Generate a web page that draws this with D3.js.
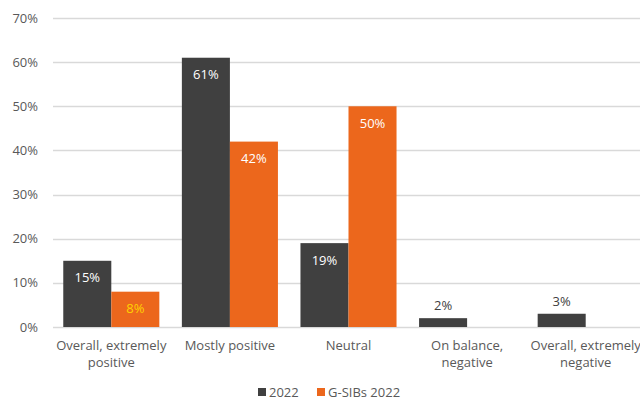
<!DOCTYPE html>
<html><head><meta charset="utf-8">
<script src="https://cdn.jsdelivr.net/npm/d3@7"></script>
<style>body{margin:0;background:#fff;overflow:hidden}svg{display:block;font-family:"Open Sans",sans-serif}</style>
</head><body>
<svg id="c" width="640" height="400"></svg>
<script>
const categories = [["Overall, extremely","positive"],["Mostly positive"],["Neutral"],["On balance,","negative"],["Overall, extremely","negative"]];
const seriesNames = ["2022","G-SIBs 2022"];
const values2022 = [15,61,19,2,3];
const valuesGSIB = [8,42,50,null,null];
const yTicks = [0,10,20,30,40,50,60,70];
const colors = ["#404040","#EC671C"];

const svg = d3.select("#c");
const m = {l:52, r:-5, t:18, b:73};
const W = 640, H = 400;
const x = d3.scaleBand().domain(d3.range(categories.length)).range([m.l, W - m.r]).paddingInner(0.19).paddingOuter(0.095);
const xs = d3.scaleBand().domain([0,1]).range([0, x.bandwidth()]);
const y = d3.scaleLinear().domain([0,70]).range([H - m.b, m.t]);

// gridlines
svg.append("g").selectAll("line").data(yTicks).join("line")
  .attr("x1", m.l+1).attr("x2", W).attr("y1", d=>Math.round(y(d))+0.5).attr("y2", d=>Math.round(y(d))+0.5)
  .attr("stroke","#d9d9d9").attr("stroke-width",1.3);

// y labels
svg.append("g").selectAll("text").data(yTicks).join("text")
  .attr("x", 38).attr("y", d=>y(d)).attr("dy","0.35em").attr("text-anchor","end")
  .attr("font-size",13).attr("fill","#595959").text(d=>d+"%");

const series = [values2022, valuesGSIB];
series.forEach((vals, si) => {
  const g = svg.append("g");
  vals.forEach((v, i) => {
    if (v == null) return;
    const bx = x(i) + xs(si), bw = xs.bandwidth();
    g.append("rect").attr("x", bx).attr("y", y(v)).attr("width", bw).attr("height", y(0)-y(v))
      .attr("fill", colors[si]);
    const inside = v >= 5;
    let fill = inside ? "#ffffff" : "#404040";
    if (si === 1 && v < 10) fill = "#FFD200";
    g.append("text").attr("x", bx + bw/2).attr("y", inside ? y(v) + 17 : y(v) - 8)
      .attr("dy", inside ? "0.35em" : "0").attr("text-anchor","middle")
      .attr("font-size",13).attr("fill", fill).text(v + "%");
  });
});

// x labels
categories.forEach((lines, i) => {
  const t = svg.append("text").attr("text-anchor","middle").attr("font-size",13).attr("fill","#595959")
    .attr("x", x(i) + x.bandwidth()/2).attr("y", 350);
  lines.forEach((ln, k) => t.append("tspan").attr("x", x(i)+x.bandwidth()/2).attr("dy", k===0?0:17).text(ln));
});

// legend
const leg = [{n:seriesNames[0], c:colors[0], x:258},{n:seriesNames[1], c:colors[1], x:317}];
leg.forEach(l => {
  svg.append("rect").attr("x", l.x).attr("y", 388).attr("width", 8).attr("height", 8).attr("fill", l.c);
  svg.append("text").attr("x", l.x + 11).attr("y", 397).attr("font-size",13).attr("fill","#595959").text(l.n);
});
</script>
</body></html>
